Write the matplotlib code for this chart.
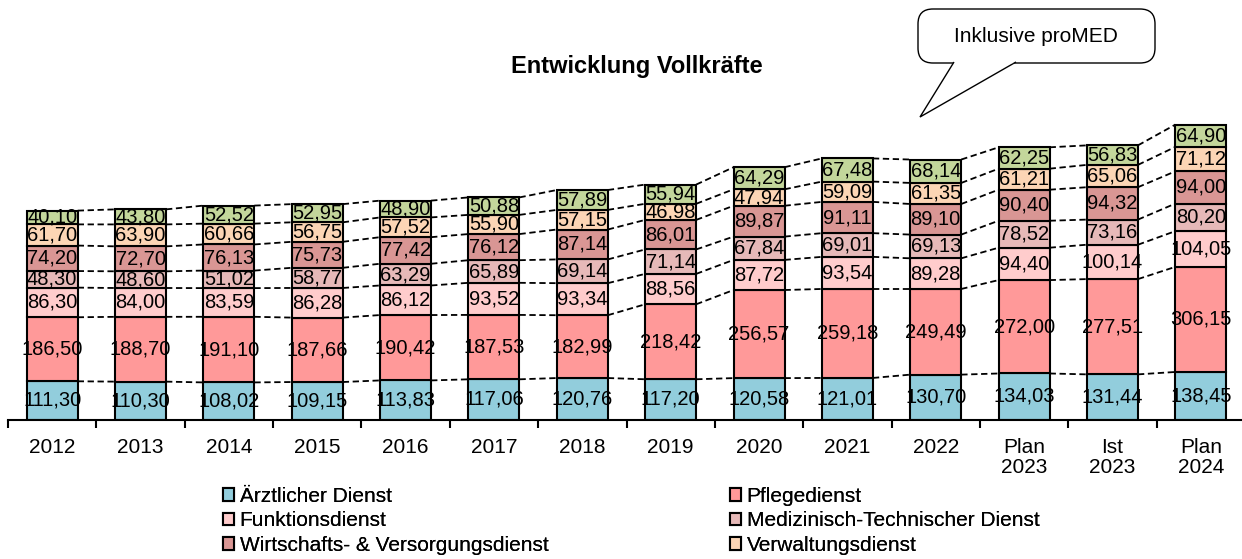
import matplotlib.pyplot as plt
from matplotlib.patches import FancyBboxPatch, Polygon
import numpy as np

plt.rcParams['font.family'] = ['Liberation Sans', 'DejaVu Sans']

jahre = ['2012', '2013', '2014', '2015', '2016', '2017', '2018', '2019', '2020',
         '2021', '2022', 'Plan\n2023', 'Ist\n2023', 'Plan\n2024']

aerztlich = [111.30, 110.30, 108.02, 109.15, 113.83, 117.06, 120.76, 117.20, 120.58,
             121.01, 130.70, 134.03, 131.44, 138.45]
pflege = [186.50, 188.70, 191.10, 187.66, 190.42, 187.53, 182.99, 218.42, 256.57,
          259.18, 249.49, 272.00, 277.51, 306.15]
funktion = [86.30, 84.00, 83.59, 86.28, 86.12, 93.52, 93.34, 88.56, 87.72,
            93.54, 89.28, 94.40, 100.14, 104.05]
medtech = [48.30, 48.60, 51.02, 58.77, 63.29, 65.89, 69.14, 71.14, 67.84,
           69.01, 69.13, 78.52, 73.16, 80.20]
wirtschaft = [74.20, 72.70, 76.13, 75.73, 77.42, 76.12, 87.14, 86.01, 89.87,
              91.11, 89.10, 90.40, 94.32, 94.00]
verwaltung = [61.70, 63.90, 60.66, 56.75, 57.52, 55.90, 57.15, 46.98, 47.94,
              59.09, 61.35, 61.21, 65.06, 71.12]
sonstige = [40.10, 43.80, 52.52, 52.95, 48.90, 50.88, 57.89, 55.94, 64.29,
            67.48, 68.14, 62.25, 56.83, 64.90]

serien = [aerztlich, pflege, funktion, medtech, wirtschaft, verwaltung, sonstige]
namen = ['Ärztlicher Dienst', 'Pflegedienst', 'Funktionsdienst',
         'Medizinisch-Technischer Dienst', 'Wirtschafts- & Versorgungsdienst',
         'Verwaltungsdienst', 'Sonstige']
farben = ['#92CDDC', '#FF9999', '#FFCCCC', '#E6B9B8', '#D99694', '#FCD5B5', '#C3D69B']

W, H = 1242, 559
fig = plt.figure(figsize=(W / 100, H / 100), dpi=100)
ax = fig.add_axes([8 / W, 139.5 / H, 1237 / W, 412 / H])

x = np.arange(len(jahre))
breite = 0.577
unten = np.zeros(len(jahre))
balken = []
for werte, name, farbe in zip(serien, namen, farben):
    werte = np.array(werte)
    b = ax.bar(x, werte, breite, bottom=unten, color=farbe, edgecolor='black',
               linewidth=1.5, label=name, zorder=2)
    balken.append(b)
    for i in range(len(jahre)):
        ax.text(x[i], unten[i] + werte[i] / 2, ('%.2f' % werte[i]).replace('.', ','),
                ha='center', va='center', fontsize=14.5, zorder=3)
    unten = unten + werte
    # Reihenverbindungslinien
    for i in range(len(jahre) - 1):
        ax.plot([x[i] + breite / 2, x[i + 1] - breite / 2], [unten[i], unten[i + 1]],
                color='black', linestyle=(0, (3.5, 2)), linewidth=1.3, zorder=1)

ax.set_xlim(-0.5, len(jahre) - 0.5)
ax.set_ylim(0, 1200)
for s in ['top', 'right', 'left']:
    ax.spines[s].set_visible(False)
ax.spines['bottom'].set_linewidth(1.5)
ax.set_yticks([])
ax.set_xticks(x)
ax.set_xticklabels(jahre, fontsize=15, linespacing=1.1, va='top')
ax.tick_params(axis='x', which='major', length=0, pad=13)
ax.set_xticks(np.arange(-0.5, len(jahre)), minor=True)
ax.tick_params(axis='x', which='minor', length=6, width=1.5, direction='out')

fig.text(637 / W, 1 - 67 / H, 'Entwicklung Vollkräfte', ha='center', va='center',
         fontsize=17, fontweight='bold')

# Sprechblase
def fx(px):
    return px / W

def fy(py):
    return 1 - py / H

box = FancyBboxPatch((fx(918), fy(63)), fx(1155) - fx(918), fy(9) - fy(63),
                     boxstyle='round,pad=0,rounding_size=0.012',
                     transform=fig.transFigure, facecolor='white', edgecolor='black',
                     linewidth=1.0, mutation_aspect=W / H)
fig.patches.append(box)
tail = Polygon([(fx(954), fy(62)), (fx(920), fy(117)), (fx(1016), fy(62))],
               closed=False, transform=fig.transFigure, facecolor='white',
               edgecolor='black', linewidth=1.0)
fig.patches.append(tail)
fig.patches.append(Polygon([(fx(955), fy(63.5)), (fx(1014), fy(63.5)), (fx(984), fy(66))],
                           transform=fig.transFigure, facecolor='white', edgecolor='none'))
fig.text(fx(1036), fy(37), 'Inklusive proMED', ha='center', va='center', fontsize=15)

links = [0, 2, 4]
rechts = [1, 3, 5]
for gruppe, xpos in [(links, 223), (rechts, 730)]:
    leg = fig.legend([balken[k] for k in gruppe], [namen[k] for k in gruppe],
                     loc='upper left', bbox_to_anchor=(xpos / W, 1 - 487 / H),
                     frameon=False, fontsize=15, handlelength=0.55, handleheight=0.55,
                     handletextpad=0.25, labelspacing=0.26, borderpad=0,
                     borderaxespad=0)
    fig.add_artist(leg)

fig.savefig('out.png', dpi=100)
